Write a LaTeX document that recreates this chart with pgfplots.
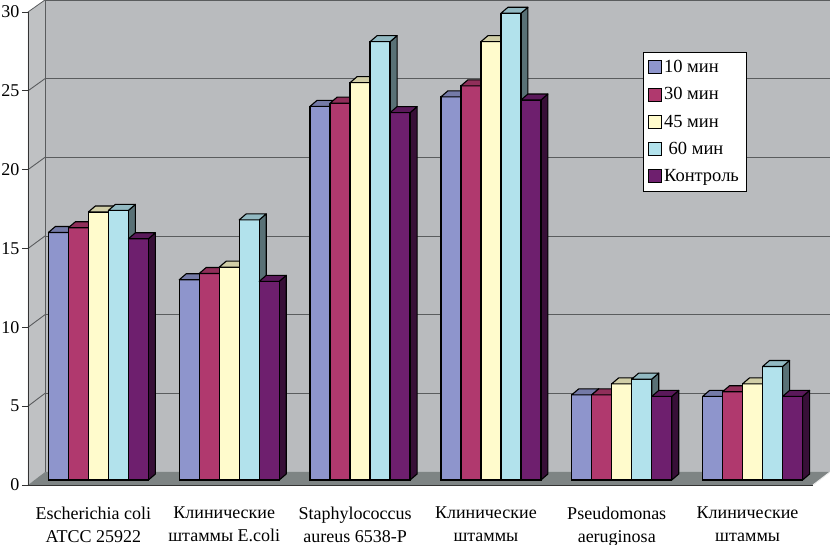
\documentclass[border=0pt]{standalone}
\usepackage{pgfplots}
\pgfplotsset{compat=1.18}
\usepackage{fontspec}
\setmainfont{Liberation Serif}
\definecolor{cA}{HTML}{8E95CC}
\definecolor{cB}{HTML}{B0396E}
\definecolor{cC}{HTML}{FFFBCC}
\definecolor{cD}{HTML}{B2E2EC}
\definecolor{cE}{HTML}{6E1F6E}
\definecolor{wall}{HTML}{B9BBBE}
\definecolor{swall}{HTML}{BFC1C3}
\definecolor{floorc}{HTML}{7E8484}
\definecolor{gridc}{HTML}{5A5C5E}
\newcommand\defcube[2]{\pgfdeclareplotmark{cube#1}{%
  \pgfmathsetmacro\hh{\barval*15.7667}%
  \filldraw[fill=#2!50!black,draw=black,line width=1.1pt,line join=round] (10pt,0pt) -- (17pt,6pt) -- (17pt,{6pt-\hh pt}) -- (10pt,{-\hh pt}) -- cycle;
  \filldraw[fill=#2,draw=black,line width=1.2pt,line join=round] (-10pt,0pt) rectangle (10pt,{-\hh pt});
  \filldraw[fill=#2!82!black,draw=black,line width=1.1pt,line join=round] (-10pt,0pt) -- (10pt,0pt) -- (17pt,6pt) -- (-3pt,6pt) -- cycle;
}}
\defcube{A}{cA}
\defcube{B}{cB}
\defcube{C}{cC}
\defcube{D}{cD}
\defcube{E}{cE}
\pgfplotstableread{
x v10 v30 v45 v60 vk
0 15.7 16.0 17.0 17.1 15.3
1 12.7 13.1 13.5 16.5 12.6
2 23.7 23.9 25.2 27.8 23.3
3 24.3 25.0 27.8 29.6 24.1
4 5.4 5.4 6.1 6.4 5.3
5 5.3 5.6 6.1 7.2 5.3
}\datatable
\begin{document}
\begin{tikzpicture}[x=1pt,y=1pt]
\path[use as bounding box] (-28,-60) rectangle (802,485);
% back wall
\begin{axis}[at={(17pt,13pt)}, anchor=south west, scale only axis,
  width=785pt, height=472pt, xmin=-0.5, xmax=5.5, ymin=0, ymax=30,
  ytick={5,10,...,25}, xtick=\empty, yticklabels={}, ymajorgrids,
  major tick length=0pt,
  major grid style={draw=gridc, line width=0.9pt},
  axis background/.style={fill=wall},
  axis line style={draw=gridc, line width=0.8pt}]
\end{axis}
% side wall and floor
\fill[swall] (0,0) -- (0,473) -- (17,485) -- (17,13) -- cycle;
\foreach \v in {5,10,...,25} \draw[gridc, line width=0.9pt] (0,\v*15.7667) -- (17,13+\v*15.7333);
\draw[gridc, line width=0.8pt] (0,473) -- (17,485);
\fill[floorc] (0,0) -- (785,0) -- (802,13) -- (17,13) -- cycle;
\draw[white!85!gray, line width=1pt] (785,0) -- (802,13);
% front axis
\begin{axis}[at={(0,0)}, anchor=south west, scale only axis,
  width=785pt, height=473pt, xmin=-0.5, xmax=5.5, ymin=0, ymax=30,
  clip=false, axis lines*=left,
  axis line style={draw=black!80, line width=0.8pt},
  ytick={0,5,...,30}, ytick align=outside, major tick length=6pt,
  tick style={draw=black!80, line width=0.8pt},
  /pgf/number format/assume math mode=true,
  yticklabel style={font=\fontsize{18}{20}\selectfont, xshift=1pt},
  xtick={0,...,5},
  xticklabels={{Escherichia coli\\ATCC 25922},{Клинические\\штаммы E.coli},{Staphylococcus\\aureus 6538-P},{Клинические\\штаммы},{Pseudomonas\\aeruginosa},{Клинические\\штаммы}},
  xticklabel style={font=\fontsize{18}{23.5}\selectfont, align=center, yshift=-18pt},
  x tick style={draw=none},
  extra x ticks={-0.5,0.5,...,5.5}, extra x tick labels={},
  extra x tick style={tick style={draw=black!80, line width=0.8pt}, xtick align=outside, major tick length=7pt},
  legend style={at={(615pt,433pt)}, anchor=north west, draw=black, line width=0.6pt,
    fill=white, font=\fontsize{18.5}{20}\selectfont, row sep=9.5pt,
    inner xsep=5pt, inner ysep=6pt, cells={anchor=west}},
  legend cell align=left,
  ]
\addplot[ybar, bar width=20pt, bar shift=-40pt, fill=cA, draw=black, line width=1.2pt, xshift=5pt, yshift=5pt, forget plot] table[x=x,y=v10] {\datatable};
\addplot[ybar, bar width=20pt, bar shift=-20pt, fill=cB, draw=black, line width=1.2pt, xshift=5pt, yshift=5pt, forget plot] table[x=x,y=v30] {\datatable};
\addplot[ybar, bar width=20pt, bar shift=0pt, fill=cC, draw=black, line width=1.2pt, xshift=5pt, yshift=5pt, forget plot] table[x=x,y=v45] {\datatable};
\addplot[ybar, bar width=20pt, bar shift=20pt, fill=cD, draw=black, line width=1.2pt, xshift=5pt, yshift=5pt, forget plot] table[x=x,y=v60] {\datatable};
\addplot[ybar, bar width=20pt, bar shift=40pt, fill=cE, draw=black, line width=1.2pt, xshift=5pt, yshift=5pt, forget plot] table[x=x,y=vk] {\datatable};
\addplot[only marks, scatter, mark=cubeA, visualization depends on={rawy\as\barval}, xshift=-35pt, yshift=5pt, forget plot] table[x=x,y=v10] {\datatable};
\addplot[only marks, scatter, mark=cubeB, visualization depends on={rawy\as\barval}, xshift=-15pt, yshift=5pt, forget plot] table[x=x,y=v30] {\datatable};
\addplot[only marks, scatter, mark=cubeC, visualization depends on={rawy\as\barval}, xshift=5pt, yshift=5pt, forget plot] table[x=x,y=v45] {\datatable};
\addplot[only marks, scatter, mark=cubeD, visualization depends on={rawy\as\barval}, xshift=25pt, yshift=5pt, forget plot] table[x=x,y=v60] {\datatable};
\addplot[only marks, scatter, mark=cubeE, visualization depends on={rawy\as\barval}, xshift=45pt, yshift=5pt, forget plot] table[x=x,y=vk] {\datatable};
\addlegendimage{legend image code/.code={\draw[fill=cA,draw=black,line width=0.8pt] (0pt,-6.5pt) rectangle (13pt,6.5pt);}}
\addlegendentry{10 мин}
\addlegendimage{legend image code/.code={\draw[fill=cB,draw=black,line width=0.8pt] (0pt,-6.5pt) rectangle (13pt,6.5pt);}}
\addlegendentry{30 мин}
\addlegendimage{legend image code/.code={\draw[fill=cC,draw=black,line width=0.8pt] (0pt,-6.5pt) rectangle (13pt,6.5pt);}}
\addlegendentry{45 мин}
\addlegendimage{legend image code/.code={\draw[fill=cD,draw=black,line width=0.8pt] (0pt,-6.5pt) rectangle (13pt,6.5pt);}}
\addlegendentry{\ 60 мин}
\addlegendimage{legend image code/.code={\draw[fill=cE,draw=black,line width=0.8pt] (0pt,-6.5pt) rectangle (13pt,6.5pt);}}
\addlegendentry{Контроль}
\end{axis}
\end{tikzpicture}
\end{document}
